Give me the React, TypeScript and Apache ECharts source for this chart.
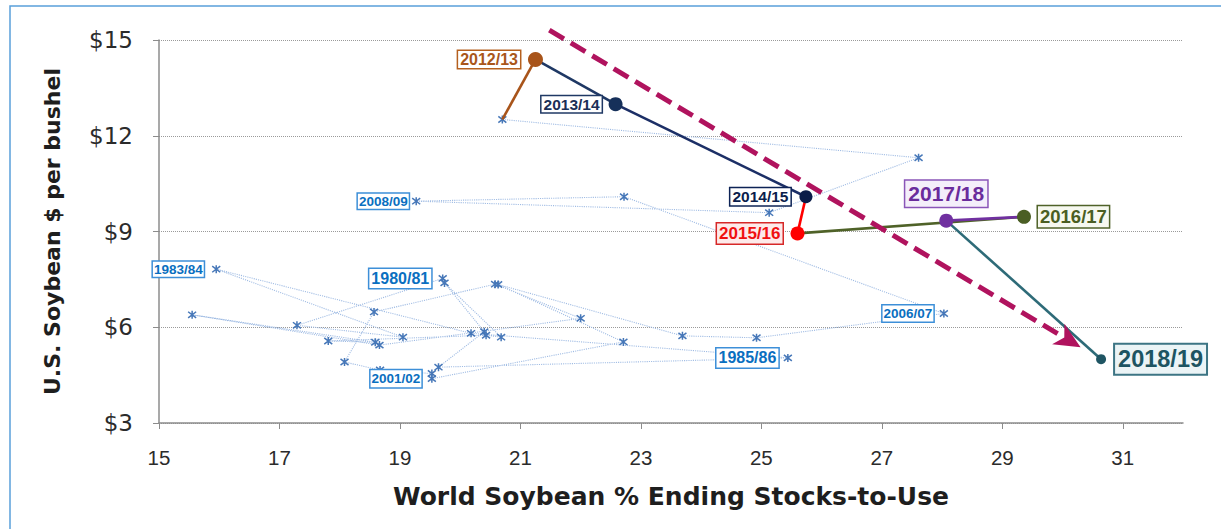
import React, { useEffect, useRef } from "react";
import * as echarts from "echarts";

// ---- data ----
const years = [
  "1980/81", "1981/82", "1982/83", "1983/84", "1984/85", "1985/86", "1986/87", "1987/88",
  "1988/89", "1989/90", "1990/91", "1991/92", "1992/93", "1993/94", "1994/95", "1995/96",
  "1996/97", "1997/98", "1998/99", "1999/00", "2000/01", "2001/02", "2002/03", "2003/04",
  "2004/05", "2005/06", "2006/07", "2007/08", "2008/09", "2009/10", "2010/11", "2011/12",
  "2012/13", "2013/14", "2014/15", "2015/16", "2016/17", "2017/18", "2018/19",
];
// World soybean % ending stocks-to-use
const stocksToUse = [
  19.71, 17.29, 19.05, 15.95, 20.18, 25.44, 19.64, 20.4,
  19.74, 20.68, 20.43, 17.81, 18.59, 15.55, 18.66, 22.0,
  20.58, 18.57, 18.08, 18.67, 19.53, 19.53, 22.71, 20.63,
  23.69, 24.92, 28.03, 22.72, 19.27, 25.13, 27.61, 20.7,
  21.25, 22.58, 25.74, 25.6, 29.36, 28.07, 30.64,
];
// U.S. soybean price, $ per bushel
const prices = [
  7.53, 6.06, 5.69, 7.82, 5.81, 5.04, 4.75, 5.86,
  7.39, 5.69, 5.75, 5.57, 5.53, 6.39, 5.44, 6.28,
  7.35, 6.48, 4.91, 4.66, 4.55, 4.39, 5.54, 7.34,
  5.73, 5.67, 6.43, 10.09, 9.95, 9.59, 11.31, 12.51,
  14.39, 12.99, 10.09, 8.94, 9.46, 9.34, 5.0,
];
const firstHighlighted = "2012/13";
const labelledHistory = ["1983/84", "1980/81", "2008/09", "2001/02", "1985/86", "2006/07"];
const xTicks = [15, 17, 19, 21, 23, 25, 27, 29, 31];
const yTicks = [3, 6, 9, 12, 15];
// trend arrow (start x, start y, end x, end y) in data units
const trendArrow = [21.48, 15.31, 30.3, 5.37];

// ---- styles ----
type LS = {
  color: string; fill: string; border: string; marker: string; line?: string;
  size: number; lh: number; pad: number[]; pos: string; dist: number; sym: number; bw: number;
};
const histBlue = { color: "#0a6fc0", fill: "#ffffff", border: "#3d8fd8", marker: "transparent" };
const labelStyles: Record<string, LS> = {
  "1983/84": { ...histBlue, size: 13.5, lh: 13, pad: [1, 1], pos: "left", dist: 9, sym: 7, bw: 1.5 },
  "1980/81": { ...histBlue, size: 16, lh: 17, pad: [1, 2], pos: "left", dist: 8, sym: 7, bw: 1.5 },
  "2008/09": { ...histBlue, size: 13.5, lh: 13, pad: [1, 1], pos: "left", dist: 4, sym: 7, bw: 1.5 },
  "2001/02": { ...histBlue, size: 13.5, lh: 15, pad: [1, 1], pos: "left", dist: 7, sym: 7, bw: 1.5 },
  "1985/86": { ...histBlue, size: 16, lh: 17, pad: [1, 2], pos: "left", dist: 6, sym: 7, bw: 1.5 },
  "2006/07": { ...histBlue, size: 13.5, lh: 14, pad: [1, 1], pos: "left", dist: 7, sym: 7, bw: 1.5 },
  "2012/13": { color: "#a9561a", fill: "#ffffff", border: "#b5601e", marker: "#a8541a", line: "#a8541a", size: 16, lh: 15, pad: [1, 2], pos: "left", dist: 8, sym: 15, bw: 1.5 },
  "2013/14": { color: "#1a2f57", fill: "#ffffff", border: "#1f3864", marker: "#16305a", line: "#1f3864", size: 15.5, lh: 14, pad: [1, 2], pos: "left", dist: 7, sym: 14, bw: 1.5 },
  "2014/15": { color: "#0b1e4c", fill: "#ffffff", border: "#0d2356", marker: "#0a1c48", line: "#1c2f66", size: 15.5, lh: 15, pad: [1, 2], pos: "left", dist: 9, sym: 13, bw: 1.5 },
  "2015/16": { color: "#f01010", fill: "#fdeaea", border: "#d62828", marker: "#ff0000", line: "#ff0000", size: 17, lh: 18, pad: [1, 2], pos: "left", dist: 8, sym: 14, bw: 1.5 },
  "2016/17": { color: "#4a5e22", fill: "#f6f8ef", border: "#4f6228", marker: "#4a5e24", line: "#4f6228", size: 18.5, lh: 19, pad: [1, 2], pos: "right", dist: 7, sym: 14, bw: 1.5 },
  "2017/18": { color: "#6a2c9c", fill: "#f4eefa", border: "#8a55b8", marker: "#7030a0", line: "#7030a0", size: 21, lh: 22, pad: [2, 3], pos: "top", dist: 7, sym: 14, bw: 1.5 },
  "2018/19": { color: "#1d5462", fill: "#ebf4f6", border: "#3d7584", marker: "#1f5563", line: "#2e6b78", size: 23.5, lh: 25, pad: [2, 3], pos: "right", dist: 9, sym: 10, bw: 2 },
};
const asterisk = "path://M0,0L10,10M10,0L0,10M5,-1.5L5,11.5";
const arrowColor = "#b0135e";
const axisColor = "#8c8c8c";

export default function App() {
  const ref = useRef<HTMLDivElement>(null);
  useEffect(() => {
    if (!ref.current) return;
    const chart = echarts.init(ref.current, undefined, { renderer: "svg" });
    const pts = years.map((_, i) => [stocksToUse[i], prices[i]]);
    const hi = years.indexOf(firstHighlighted);

    const segmentSeries: any[] = [];
    for (let k = hi; k < years.length; k++) {
      const st = labelStyles[years[k]];
      segmentSeries.push({
        type: "line",
        data: [pts[k - 1], pts[k]],
        symbol: "none",
        lineStyle: { color: st.line, width: 2.6, opacity: 1 },
        z: 3,
        silent: true,
      });
    }

    const labelled = [...labelledHistory, ...years.slice(hi)];
    const labelData = labelled.map((y) => {
      const i = years.indexOf(y);
      const st = labelStyles[y];
      return {
        value: pts[i],
        symbolSize: st.sym,
        itemStyle: { color: st.marker, opacity: 1 },
        label: {
          show: true,
          formatter: y,
          position: st.pos,
          distance: st.dist,
          color: st.color,
          opacity: 1,
          fontSize: st.size,
          lineHeight: st.lh,
          fontWeight: "bold",
          fontFamily: "Liberation Sans, Arial, sans-serif",
          backgroundColor: st.fill,
          borderColor: st.border,
          borderWidth: st.bw,
          padding: st.pad,
        },
      };
    });

    const option: any = {
      animation: false,
      backgroundColor: "#ffffff",
      graphic: [
        {
          type: "rect",
          shape: { x: 10, y: 6, width: 1230, height: 560 },
          style: { fill: "none", stroke: "#5aa0da", lineWidth: 1.5 },
          silent: true,
          z: 0,
        },
      ],
      grid: { left: 159, right: 38, top: 40, bottom: 106 },
      xAxis: {
        type: "value",
        min: 15,
        max: 32,
        name: "World Soybean % Ending Stocks-to-Use",
        nameLocation: "middle",
        nameGap: 61,
        nameTextStyle: { fontFamily: "DejaVu Sans", fontWeight: "bold", fontSize: 25, color: "#1e1e1e" },
        axisLine: { show: true, onZero: false, lineStyle: { color: axisColor, width: 1.5 } },
        axisTick: { show: true, length: 6, inside: false, customValues: xTicks, lineStyle: { color: axisColor } },
        axisLabel: { customValues: xTicks, margin: 24, fontSize: 20.5, fontFamily: "Liberation Sans", color: "#2b2b2b" },
        splitLine: { show: false },
      },
      yAxis: {
        type: "value",
        min: yTicks[0],
        max: yTicks[yTicks.length - 1],
        interval: 3,
        name: "U.S. Soybean $ per bushel",
        nameLocation: "middle",
        nameGap: 96,
        nameRotate: 90,
        nameTextStyle: { fontFamily: "DejaVu Sans", fontWeight: "bold", fontSize: 22, color: "#1e1e1e" },
        axisLine: { show: true, onZero: false, lineStyle: { color: axisColor, width: 1.5 } },
        axisTick: { show: true, length: 6, lineStyle: { color: axisColor } },
        axisLabel: { margin: 26, fontSize: 23, fontFamily: "DejaVu Sans", color: "#2b2b2b", formatter: (v: number) => "$" + v },
        splitLine: { show: true, lineStyle: { type: "dotted", color: "#9a9a9a", width: 1 } },
      },
      series: [
        {
          type: "line",
          data: pts.slice(0, hi),
          symbol: asterisk,
          symbolSize: 8,
          showSymbol: true,
          itemStyle: { color: "#4a7ebb", borderColor: "#4677b8", borderWidth: 1.5, opacity: 1 },
          lineStyle: { color: "#9fbbe3", width: 1.1, type: "dotted" },
          z: 2,
          silent: true,
        },
        ...segmentSeries,
        {
          type: "scatter",
          data: labelData,
          z: 6,
          silent: true,
        },
        {
          type: "custom",
          data: [trendArrow],
          encode: { x: [0, 2], y: [1, 3] },
          z: 5,
          silent: true,
          renderItem: (_p: any, api: any) => {
            const p1 = api.coord([api.value(0), api.value(1)]);
            const p2 = api.coord([api.value(2), api.value(3)]);
            const dx = p2[0] - p1[0];
            const dy = p2[1] - p1[1];
            const len = Math.hypot(dx, dy);
            const ux = dx / len;
            const uy = dy / len;
            const headLen = 26;
            const half = 12;
            const bx = p2[0] - ux * headLen;
            const by = p2[1] - uy * headLen;
            return {
              type: "group",
              children: [
                {
                  type: "line",
                  shape: { x1: p1[0], y1: p1[1], x2: bx + ux * 4, y2: by + uy * 4 },
                  style: { stroke: arrowColor, lineWidth: 5, lineDash: [17, 8], fill: "none" },
                },
                {
                  type: "polygon",
                  shape: {
                    points: [
                      [p2[0], p2[1]],
                      [bx - uy * half, by + ux * half],
                      [bx + ux * 7, by + uy * 7],
                      [bx + uy * half, by - ux * half],
                    ],
                  },
                  style: { fill: arrowColor },
                },
              ],
            };
          },
        },
      ],
    };
    chart.setOption(option);
    return () => chart.dispose();
  }, []);
  return (
    <div
      ref={ref}
      style={{ position: "absolute", left: 0, top: 0, width: 1221, height: 529 }}
    />
  );
}
